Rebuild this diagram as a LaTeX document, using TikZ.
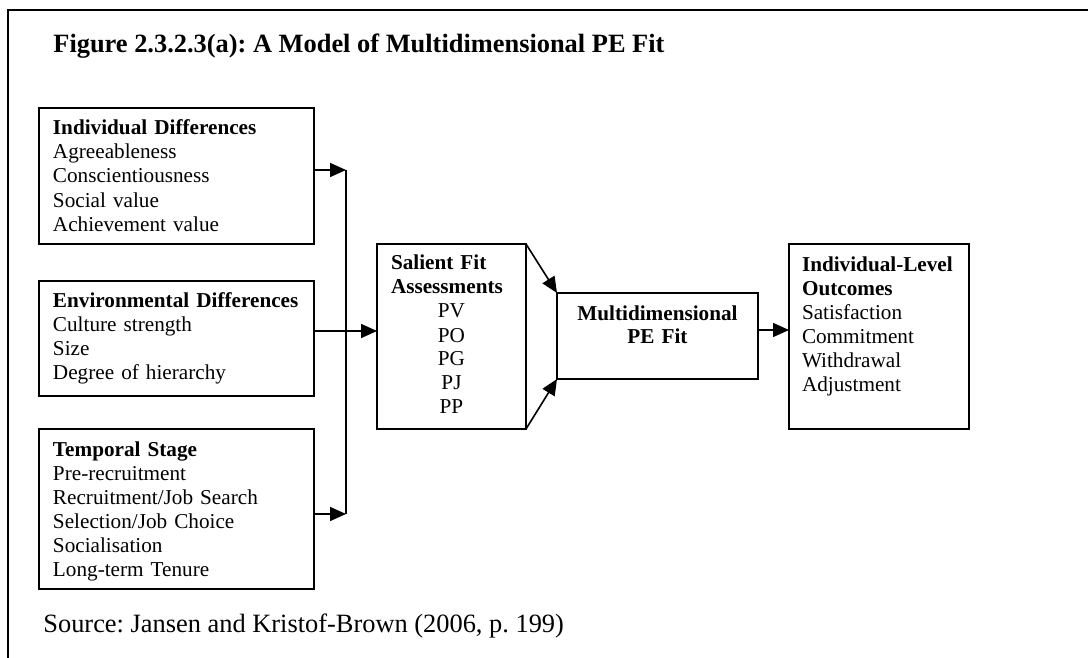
\documentclass[tikz,border=0pt]{standalone}
\usepackage{fontspec}
\setmainfont{Liberation Serif}
\frenchspacing
\usetikzlibrary{arrows.meta, positioning}
\tikzstyle{factor} = [rectangle, draw, anchor=north west, align=left, inner xsep=7pt, inner ysep=0pt, outer sep=0pt, line width=0.8pt, font=\fontsize{10.6pt}{12pt}\selectfont]
\tikzstyle{heading} = [anchor=base west, inner sep=0pt, font=\fontsize{13.2pt}{16pt}\selectfont]
\tikzstyle{line} = [draw, line width=0.8pt, -{Triangle[length=8pt,width=7pt]}]

\begin{document}
\begin{tikzpicture}[x=0.5pt, y=-0.5pt]
\useasboundingbox (0,0) rectangle (1088,658);
\draw [line width=1.1pt] (1088,10) -- (8,10) -- (8,658);

\node [heading] (title) at (53,53) {\textbf{Figure 2.3.2.3(a): A Model of Multidimensional PE Fit}};

\node [factor, text width=123.5pt, text height=13.5pt, text depth=54.5pt] (ind) at (39,108) {\textbf{Individual Differences}\\Agreeableness\\Conscientiousness\\Social value\\Achievement value};
\node [factor, text width=123.5pt, text height=13pt, text depth=44.5pt] (env) at (39,281) {\textbf{Environmental Differences}\\Culture strength\\Size\\Degree of hierarchy};
\node [factor, text width=123.5pt, text height=13.5pt, text depth=66.5pt] (tmp) at (39,429) {\textbf{Temporal Stage}\\Pre-recruitment\\Recruitment/Job Search\\Selection/Job Choice\\Socialisation\\Long-term Tenure};

\node [factor, align=center, text width=60.5pt, text height=13pt, text depth=79.5pt] (sal) at (377,244) {\makebox[\linewidth][l]{\textbf{Salient Fit}}\\\makebox[\linewidth][l]{\textbf{Assessments}}\\PV\\PO\\PG\\PJ\\PP};
\node [factor, align=center, text width=86.5pt, text height=13.5pt, text depth=29.5pt] (mdf) at (557,293) {\textbf{Multidimensional}\\\textbf{PE Fit}};
\node [factor, inner xsep=6.5pt, text width=77pt, text height=13.5pt, text depth=79pt] (out) at (789,244) {\textbf{Individual-Level}\\\textbf{Outcomes}\\Satisfaction\\Commitment\\Withdrawal\\Adjustment};

\node [heading] (src) at (43,632) {Source: Jansen and Kristof-Brown (2006, p. 199)};

% joining line on the left
\coordinate (j1) at (346,170);
\coordinate (j2) at (346,331);
\coordinate (j3) at (346,514);
\coordinate (k) at ([yshift=3pt]mdf.east);

\path [line] (ind.east |- j1) -- (j1);
\path [line] (tmp.east |- j3) -- (j3);
\draw [line width=0.8pt] (j1) -- (j3);
\path [line] (env.east |- j2) -- (sal.west |- j2);

\path [line] (sal.north east) -- (mdf.north west);
\path [line] (sal.south east) -- (mdf.south west);
\path [line] (k) -- (k -| out.west);

\end{tikzpicture}
\end{document}
